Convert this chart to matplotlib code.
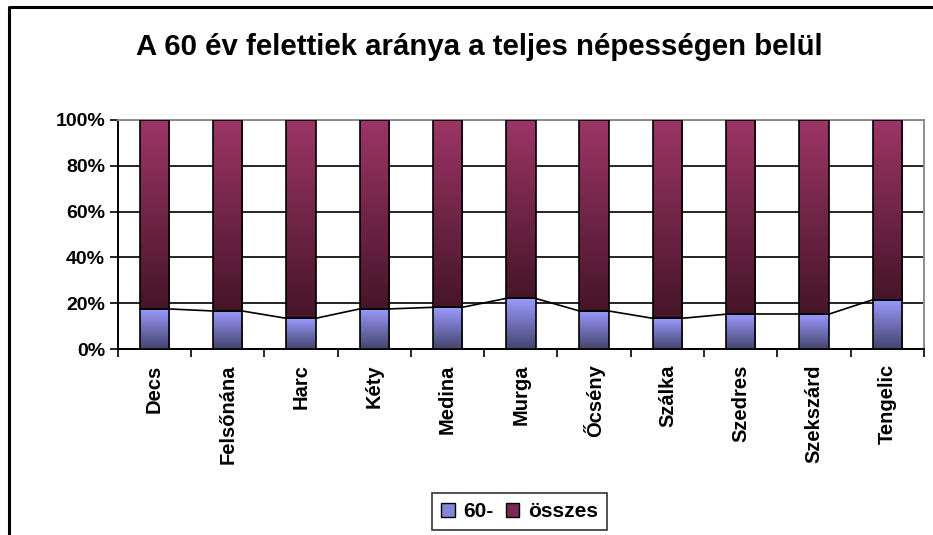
import matplotlib

matplotlib.use("Agg")
import matplotlib.pyplot as plt
import numpy as np
from matplotlib.colors import LinearSegmentedColormap
from matplotlib.lines import Line2D
from matplotlib.patches import Patch
from matplotlib.ticker import FixedLocator, PercentFormatter

plt.rcParams["font.family"] = ["Liberation Sans", "DejaVu Sans"]
plt.rcParams["font.weight"] = "bold"

# settlement names and share of people aged 60+ (percent of total population)
towns = ["Decs", "Felsőnána", "Harc", "Kéty", "Medina", "Murga",
         "Őcsény", "Szálka", "Szedres", "Szekszárd", "Tengelic"]
share_60 = [17.5, 16.6, 13.4, 17.5, 18.2, 22.1, 16.6, 13.4, 15.2, 15.2, 21.5]
share_rest = [100 - v for v in share_60]
series_names = ["60-", "összes"]

BLUE_TOP, BLUE_BOT = "#9A9AFF", "#45456E"
PLUM_TOP, PLUM_BOT = "#9C3566", "#461528"
BAR_W = 0.4

fig = plt.figure(figsize=(9.33, 5.35), dpi=100)
ax = fig.add_axes([117.7 / 933, 1 - 349 / 535, (924 - 117.7) / 933, (349 - 120) / 535])

x = np.arange(len(towns))
low = ax.bar(x, share_60, width=BAR_W, facecolor="none", edgecolor="black", lw=1.2, zorder=4)
high = ax.bar(x, share_rest, bottom=share_60, width=BAR_W, facecolor="none",
              edgecolor="black", lw=1.2, zorder=4)


def fill_gradient(bars, top, bot):
    cmap = LinearSegmentedColormap.from_list("g", [bot, top])
    grad = np.linspace(1, 0, 128).reshape(-1, 1)
    for b in bars:
        x0, y0 = b.get_x(), b.get_y()
        ax.imshow(grad, cmap=cmap, aspect="auto", zorder=3, interpolation="bicubic",
                  extent=[x0, x0 + b.get_width(), y0, y0 + b.get_height()])


fill_gradient(low, BLUE_TOP, BLUE_BOT)
fill_gradient(high, PLUM_TOP, PLUM_BOT)

# series lines between tops of the lower segment
for a, b in zip(low[:-1], low[1:]):
    ax.plot([a.get_x() + a.get_width(), b.get_x()], [a.get_height(), b.get_height()],
            color="black", lw=1.2, zorder=2)

ax.set_xlim(-0.5, len(towns) - 0.5)
ax.set_ylim(0, 100)
ax.set_yticks([0, 20, 40, 60, 80, 100])
ax.yaxis.set_major_formatter(PercentFormatter(decimals=0))
ax.yaxis.grid(True, color="black", lw=1.2, zorder=1)
ax.set_axisbelow(True)

ax.set_xticks(x)
ax.set_xticklabels(towns, rotation=90, fontsize=14.5, fontweight="bold")
ax.xaxis.set_minor_locator(FixedLocator(np.arange(-0.5, len(towns), 1.0)))
ax.tick_params(axis="x", which="major", length=0, pad=11)
ax.tick_params(axis="x", which="minor", length=6, width=1.2, direction="out")
ax.tick_params(axis="y", length=6, width=1.2, labelsize=14, pad=3)
for lbl in ax.get_yticklabels():
    lbl.set_fontweight("bold")

for side in ("left", "bottom"):
    ax.spines[side].set_color("black")
    ax.spines[side].set_linewidth(1.4)
for side in ("top", "right"):
    ax.spines[side].set_color("#8c8c8c")
    ax.spines[side].set_linewidth(1.4)

fig.text(479.5 / 933, 1 - 47 / 535, "A 60 év felettiek aránya a teljes népességen belül",
         ha="center", va="center", fontsize=21.2, fontweight="bold")

handles = [Patch(facecolor=c, edgecolor="black", lw=1) for c in ("#8585D8", "#7A2A52")]
leg = fig.legend(handles, series_names, loc="center", bbox_to_anchor=(519.5 / 933, 1 - 511.5 / 535),
                 ncol=2, frameon=True, fancybox=False, edgecolor="black",
                 handlelength=0.65, handleheight=0.65, handletextpad=0.4, columnspacing=0.6,
                 borderpad=0.45, borderaxespad=0, prop={"weight": "bold", "size": 15})
leg.get_frame().set_linewidth(1.2)

# outer chart frame (right and bottom edges fall outside the picture)
fig.add_artist(Line2D([8.5 / 933, 8.5 / 933, 1.0], [0.0, 1 - 6.5 / 535, 1 - 6.5 / 535],
                      transform=fig.transFigure, color="black", lw=2.2))

fig.savefig("out.png", dpi=100)
